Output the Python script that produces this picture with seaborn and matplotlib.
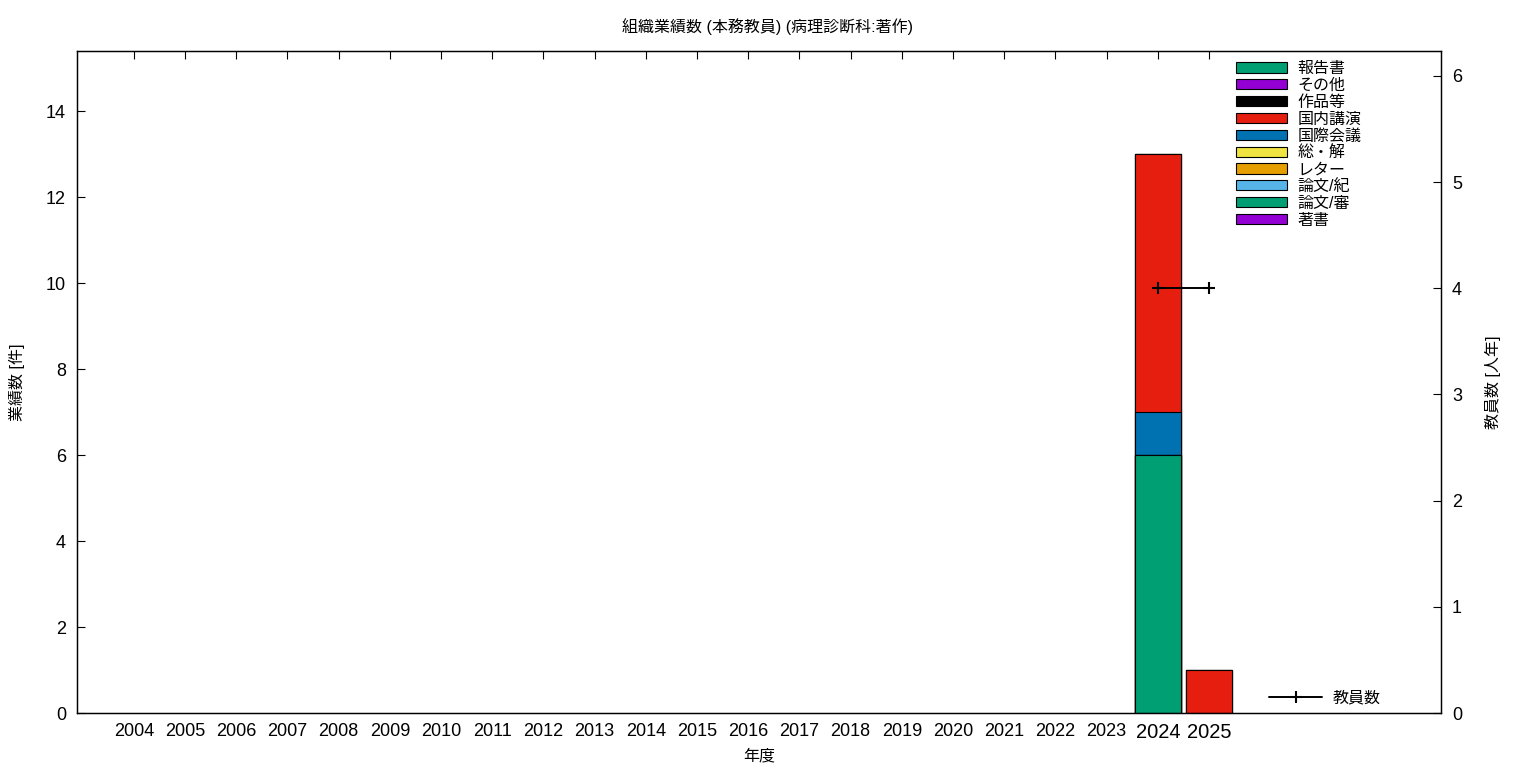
import numpy as np
import pandas as pd
import seaborn as sns
import matplotlib.pyplot as plt
from matplotlib.patches import Patch
from matplotlib.lines import Line2D

sns.set_style("white", {"text.color": "black", "axes.labelcolor": "black",
                        "xtick.color": "black", "ytick.color": "black"})
plt.rcParams['font.family'] = ['Liberation Sans', 'Noto Sans CJK JP', 'DejaVu Sans']

years = [str(y) for y in range(2004, 2026)]

# stack order, bottom to top
categories = ["著書", "論文/審", "論文/紀", "レター", "総・解",
              "国際会議", "国内講演", "作品等", "その他", "報告書"]
colors = ["#9400D3", "#009E73", "#56B4E9", "#E69F00", "#F0E442",
          "#0072B2", "#E51E10", "#000000", "#9400D3", "#009E73"]

zeros = [0] * 20
chosho = zeros + [0, 0]
ronbun_shin = zeros + [6, 0]
ronbun_ki = zeros + [0, 0]
letter = zeros + [0, 0]
sokai = zeros + [0, 0]
kokusai = zeros + [1, 0]
kokunai = zeros + [6, 1]
sakuhin = zeros + [0, 0]
sonota = zeros + [0, 0]
hokoku = zeros + [0, 0]
series = [chosho, ronbun_shin, ronbun_ki, letter, sokai,
          kokusai, kokunai, sakuhin, sonota, hokoku]

staff_years = [20, 21]   # positions of 2024, 2025
staff = [4, 4]

fig = plt.figure(figsize=(15.36, 7.68), dpi=100)
ax = fig.add_axes([77/1536, 55/768, 1364/1536, 662/768])
ax2 = ax.twinx()

cum = np.cumsum(np.array(series), axis=0).astype(float)
cum[cum == 0] = np.nan
# draw cumulative heights from the top layer down, so each layer shows its own part
for i in range(len(categories) - 1, -1, -1):
    df = pd.DataFrame({"year": years, "v": cum[i]})
    sns.barplot(data=df, x="year", y="v", order=years, color=colors[i],
                saturation=1, width=0.9, edgecolor="black", linewidth=0.8,
                errorbar=None, ax=ax)

sdf = pd.DataFrame({"pos": staff_years, "n": staff})
sns.lineplot(data=sdf, x="pos", y="n", color="black", linewidth=1.4,
             marker="+", markersize=8, markeredgewidth=1.5,
             markeredgecolor="black", ax=ax2)

ax.set_xlim(-1.11, 25.53)
ax.set_ylim(0, 15.4)
ax2.set_ylim(0, 6.235)
ax.set_yticks(range(0, 15, 2))
ax2.set_yticks(range(0, 7))

for a in (ax, ax2):
    for s in a.spines.values():
        s.set_linewidth(0.9)
        s.set_color("black")
ax.tick_params(axis="x", direction="in", length=6, width=0.8, top=True,
               labelsize=13, pad=7)
ax.tick_params(axis="y", direction="in", length=6, width=0.8, left=True,
               right=False, labelsize=13, pad=8)
ax2.tick_params(axis="y", direction="in", length=6, width=0.8, right=True,
                labelsize=13, pad=8)
for lab in ax.get_xticklabels():
    if lab.get_text() in ("2024", "2025"):
        lab.set_fontsize(14.5)

ax.set_xlabel("年度", fontsize=11.5, labelpad=5)
ax.set_ylabel("業績数 [件]", fontsize=11.5, labelpad=15)
ax2.set_ylabel("教員数 [人年]", fontsize=11.5, labelpad=16)
ax2.set_xlabel("")
fig.suptitle("組織業績数 (本務教員) (病理診断科:著作)", fontsize=11.5, y=0.977)

handles = [Patch(facecolor=colors[i], edgecolor="black", linewidth=0.8)
           for i in range(len(categories) - 1, -1, -1)]
labels = categories[::-1]
fig.legend(handles, labels, loc="upper left",
           bbox_to_anchor=(1225/1536, 1 - 50/768), frameon=False,
           fontsize=11.5, handlelength=3.2, handleheight=0.6,
           labelspacing=0.115, handletextpad=0.65, borderpad=0.2)

fig.legend([Line2D([0], [0], color="black", linewidth=1.4, marker="+",
                   markersize=8, markeredgewidth=1.5)], ["教員数"],
           loc="upper left", bbox_to_anchor=(1258/1536, 1 - 679/768),
           frameon=False, fontsize=11.5, handlelength=3.3,
           handletextpad=0.7, borderpad=0.2)

fig.savefig("out.png", dpi=100)
